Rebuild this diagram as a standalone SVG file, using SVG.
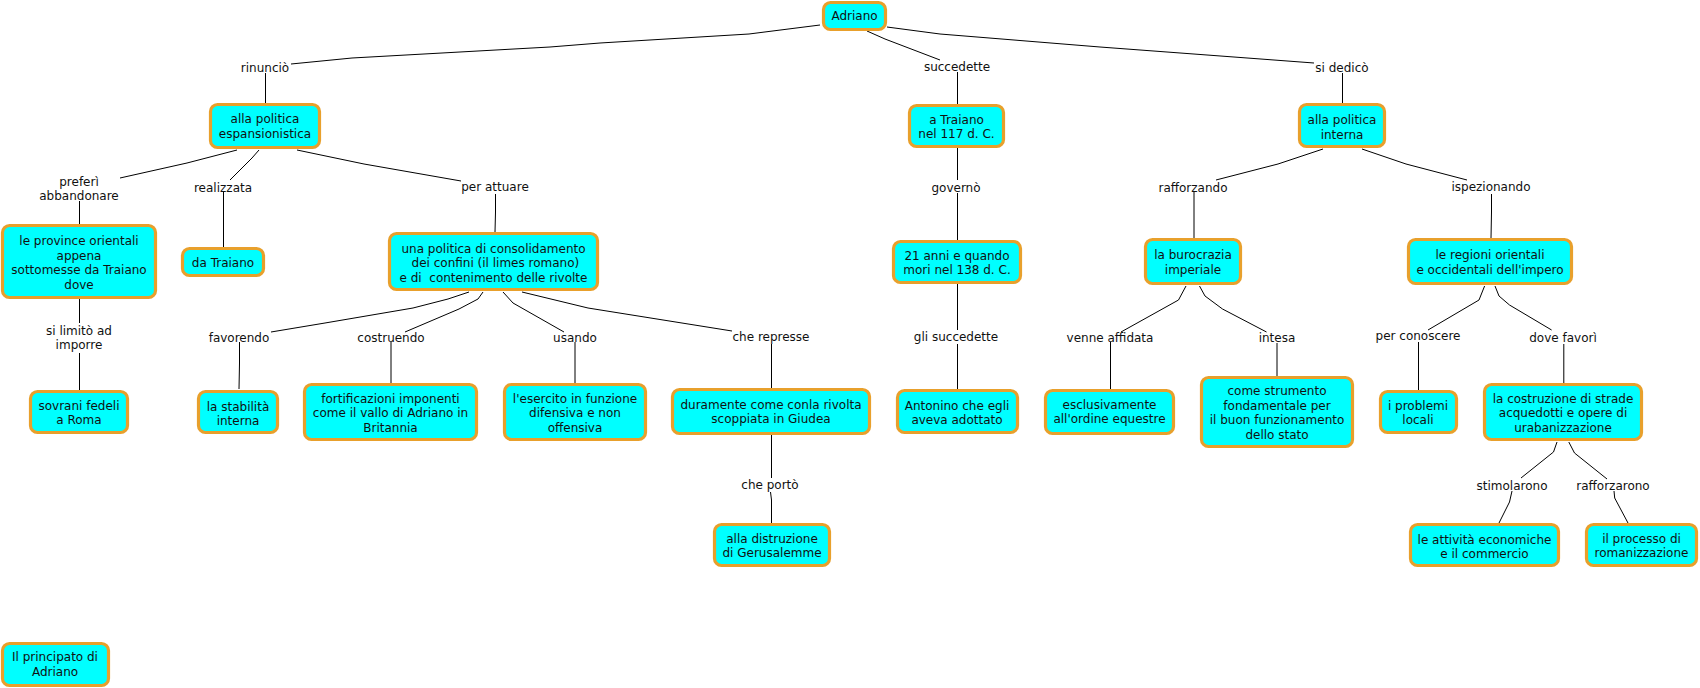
<svg xmlns="http://www.w3.org/2000/svg" width="1700" height="688" viewBox="0 0 1700 688">
<style>
.n rect{fill:#00FFFF;stroke:#E8A02C;stroke-width:3.2}
.n text{font-family:"DejaVu Sans",Verdana,sans-serif;font-size:12px;fill:#111;text-anchor:middle;white-space:pre}
.l text{font-family:"DejaVu Sans",Verdana,sans-serif;font-size:12px;fill:#111;text-anchor:middle}
#connectors path{fill:none;stroke:#000;stroke-width:1}
</style>
<rect width="1700" height="688" fill="#fff"/>
<g id="connectors">
<path d="M820,25 L749,34 L600,43 L550,47 L352,58 L291,64"/>
<path d="M265.5,73 V103"/>
<path d="M867,31 L885,39 L940,60"/>
<path d="M957.5,72 V104"/>
<path d="M887,27 L940,34 L1100,47 L1314,63"/>
<path d="M1342.5,73 V103"/>
<path d="M237,150 L187,163 L120,178"/>
<path d="M79.5,201 V224"/>
<path d="M259,150 L252,158 L230,180"/>
<path d="M223.5,192 V247"/>
<path d="M297,150 L364,164 L461,181"/>
<path d="M495.5,194 L495.5,212 L495,232"/>
<path d="M79.5,299 V323"/>
<path d="M79.5,353 V390"/>
<path d="M469,292 L448,299 L413,308 L325,323 L271,332"/>
<path d="M239.5,342 L239.5,363 L239,389"/>
<path d="M483,292 L478,299 L459,309 L405,332"/>
<path d="M391,342 V383"/>
<path d="M503,292 L513,303 L564,332"/>
<path d="M575,342 V383"/>
<path d="M522,292 L588,308 L732,331"/>
<path d="M771.5,344 V388"/>
<path d="M771.5,435 V478"/>
<path d="M770.5,492 L771.5,500 V523"/>
<path d="M957.5,148 V180"/>
<path d="M957.5,193 V240"/>
<path d="M957.5,284 V330"/>
<path d="M957.5,344 V389"/>
<path d="M1323,149 L1278,164 L1216,180"/>
<path d="M1194,192 V238"/>
<path d="M1362,149 L1406,164 L1467,180"/>
<path d="M1491.5,194 L1491.5,212 L1491,238"/>
<path d="M1186,286 L1178.5,300 L1121,332"/>
<path d="M1110.5,342 V389"/>
<path d="M1199.5,286 L1205,296 L1222.5,309 L1266.5,332"/>
<path d="M1277,343 V376"/>
<path d="M1484.6,286 L1479,300 L1428,330"/>
<path d="M1418.5,342 V390"/>
<path d="M1495,286 L1499,296 L1509.5,305 L1551.6,330"/>
<path d="M1563.8,344 V383"/>
<path d="M1557,442 L1553.5,452 L1521,478"/>
<path d="M1512,491 L1509.5,502 L1499,523"/>
<path d="M1568.8,442 L1574.5,453 L1607,479"/>
<path d="M1614,491 L1614.7,498 L1628,523"/>
</g>
<g id="labels" class="l">
<text x="265" y="71.5">rinunciò</text>
<text x="957" y="70.5">succedette</text>
<text x="1342" y="71.5">si dedicò</text>
<text x="79" y="185.5">preferì</text>
<text x="79" y="199.5">abbandonare</text>
<text x="223" y="191.5">realizzata</text>
<text x="495" y="190.5">per attuare</text>
<text x="79" y="334.5">si limitò ad</text>
<text x="79" y="348.5">imporre</text>
<text x="239" y="341.5">favorendo</text>
<text x="391" y="341.5">costruendo</text>
<text x="575" y="341.5">usando</text>
<text x="771" y="340.5">che represse</text>
<text x="770" y="488.5">che portò</text>
<text x="956" y="191.5">governò</text>
<text x="956" y="340.5">gli succedette</text>
<text x="1193" y="191.5">rafforzando</text>
<text x="1491" y="190.5">ispezionando</text>
<text x="1110" y="341.5">venne affidata</text>
<text x="1277" y="341.5">intesa</text>
<text x="1418" y="339.5">per conoscere</text>
<text x="1563" y="341.5">dove favorì</text>
<text x="1512" y="489.5">stimolarono</text>
<text x="1613" y="489.5">rafforzarono</text>
</g>
<g id="n1" class="n"><rect x="823.5" y="2.5" width="62" height="27" rx="7"/><text x="854.5" y="19.5">Adriano</text></g>
<g id="n2" class="n"><rect x="210.5" y="104.5" width="109" height="43" rx="7"/><text x="265" y="122.5">alla politica</text><text x="265" y="137.5">espansionistica</text></g>
<g id="n3" class="n"><rect x="2.5" y="225.5" width="153" height="72" rx="7"/><text x="79" y="244.5">le province orientali</text><text x="79" y="259.5">appena</text><text x="79" y="273.5">sottomesse da Traiano</text><text x="79" y="288.5">dove</text></g>
<g id="n4" class="n"><rect x="182.5" y="248.5" width="81" height="27" rx="7"/><text x="223" y="266.5">da Traiano</text></g>
<g id="n5" class="n"><rect x="389.5" y="233.5" width="208" height="56" rx="7"/><text x="493.5" y="252.5">una politica di consolidamento</text><text x="493.5" y="266.5"> dei confini (il limes romano)</text><text x="493.5" y="281.5">e di  contenimento delle rivolte</text></g>
<g id="n6" class="n"><rect x="30.5" y="391.5" width="97" height="41" rx="7"/><text x="79" y="409.5">sovrani fedeli</text><text x="79" y="423.5">a Roma</text></g>
<g id="n7" class="n"><rect x="198.5" y="391.5" width="79" height="41" rx="7"/><text x="238" y="410.5">la stabilità</text><text x="238" y="424.5">interna</text></g>
<g id="n8" class="n"><rect x="304.5" y="384.5" width="172" height="55" rx="7"/><text x="390.5" y="402.5">fortificazioni imponenti</text><text x="390.5" y="416.5">come il vallo di Adriano in</text><text x="390.5" y="431.5">Britannia</text></g>
<g id="n9" class="n"><rect x="504.5" y="384.5" width="141" height="55" rx="7"/><text x="575" y="402.5">l'esercito in funzione</text><text x="575" y="416.5">difensiva e non</text><text x="575" y="431.5">offensiva</text></g>
<g id="n10" class="n"><rect x="672.5" y="389.5" width="197" height="44" rx="7"/><text x="771" y="408.5">duramente come conla rivolta</text><text x="771" y="422.5">scoppiata in Giudea</text></g>
<g id="n11" class="n"><rect x="714.5" y="524.5" width="115" height="41" rx="7"/><text x="772" y="542.5">alla distruzione</text><text x="772" y="556.5">di Gerusalemme</text></g>
<g id="n12" class="n"><rect x="909.5" y="105.5" width="94" height="41" rx="7"/><text x="956.5" y="123.5">a Traiano</text><text x="956.5" y="137.5">nel 117 d. C.</text></g>
<g id="n13" class="n"><rect x="893.5" y="241.5" width="127" height="41" rx="7"/><text x="957" y="259.5">21 anni e quando</text><text x="957" y="273.5">mori nel 138 d. C.</text></g>
<g id="n14" class="n"><rect x="897.5" y="390.5" width="120" height="42" rx="7"/><text x="957" y="409.5">Antonino che egli</text><text x="957" y="423.5">aveva adottato</text></g>
<g id="n15" class="n"><rect x="1299.5" y="104.5" width="85" height="42" rx="7"/><text x="1342" y="123.5">alla politica</text><text x="1342" y="138.5">interna</text></g>
<g id="n16" class="n"><rect x="1145.5" y="239.5" width="95" height="44" rx="7"/><text x="1193" y="258.5">la burocrazia</text><text x="1193" y="273.5">imperiale</text></g>
<g id="n17" class="n"><rect x="1408.5" y="239.5" width="163" height="44" rx="7"/><text x="1490" y="258.5">le regioni orientali</text><text x="1490" y="273.5">e occidentali dell'impero</text></g>
<g id="n18" class="n"><rect x="1045.5" y="390.5" width="128" height="43" rx="7"/><text x="1109.5" y="408.5">esclusivamente</text><text x="1109.5" y="422.5">all'ordine equestre</text></g>
<g id="n19" class="n"><rect x="1201.5" y="377.5" width="151" height="69" rx="7"/><text x="1277" y="394.5">come strumento</text><text x="1277" y="409.5">fondamentale per</text><text x="1277" y="423.5">il buon funzionamento</text><text x="1277" y="438.5">dello stato</text></g>
<g id="n20" class="n"><rect x="1380.5" y="391.5" width="76" height="41" rx="7"/><text x="1418" y="409.5">i problemi</text><text x="1418" y="423.5">locali</text></g>
<g id="n21" class="n"><rect x="1484.5" y="384.5" width="157" height="55" rx="7"/><text x="1563" y="402.5">la costruzione di strade</text><text x="1563" y="416.5">acquedotti e opere di</text><text x="1563" y="431.5">urabanizzazione</text></g>
<g id="n22" class="n"><rect x="1410.5" y="524.5" width="148" height="41" rx="7"/><text x="1484.5" y="543.5">le attività economiche</text><text x="1484.5" y="557.5">e il commercio</text></g>
<g id="n23" class="n"><rect x="1586.5" y="524.5" width="110" height="41" rx="7"/><text x="1641.5" y="542.5">il processo di</text><text x="1641.5" y="556.5">romanizzazione</text></g>
<g id="n24" class="n"><rect x="2.5" y="643.5" width="106" height="42" rx="7"/><text x="55" y="660.5">Il principato di</text><text x="55" y="675.5">Adriano</text></g>
</svg>
